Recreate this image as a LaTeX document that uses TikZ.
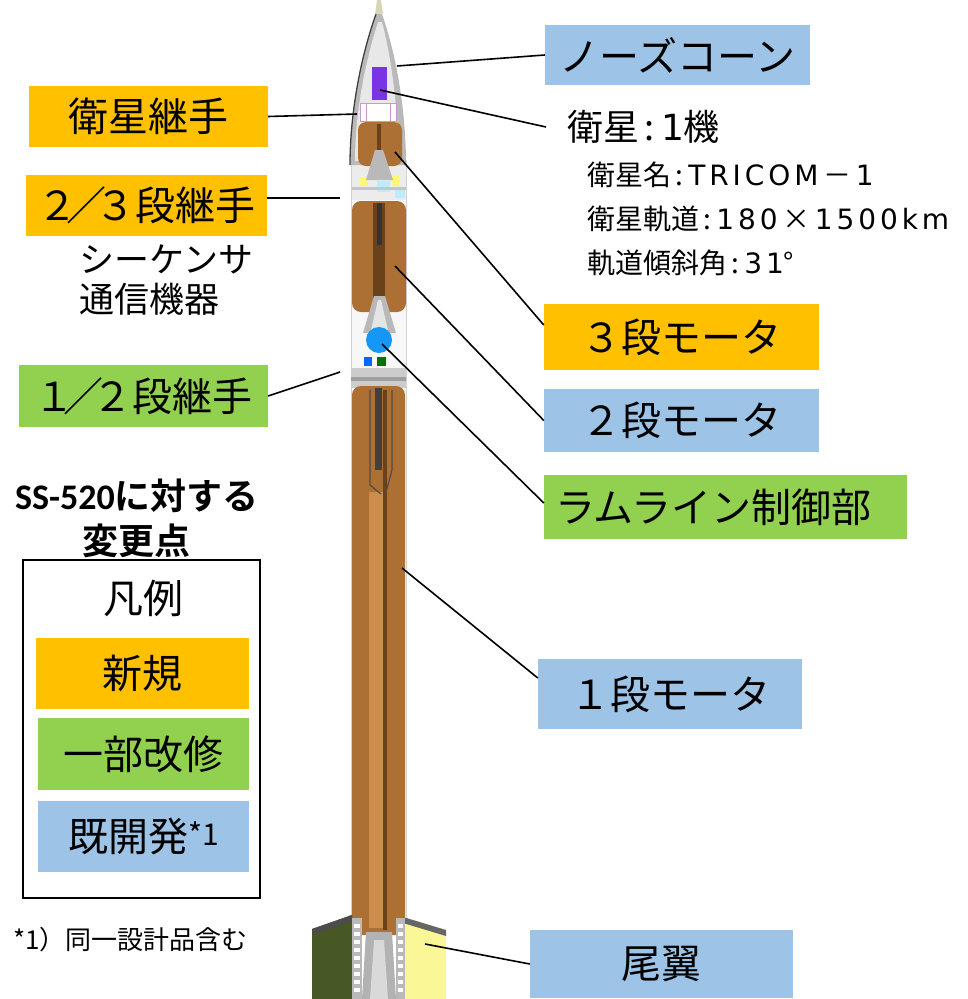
\documentclass[tikz,border=0pt]{standalone}
\usepackage{fontspec}
\setmainfont{Noto Sans CJK JP}[BoldFont={Noto Sans CJK JP Bold}]
\newfontfamily\carlito{Carlito}
\newfontfamily\latinw{DejaVu Sans}[LetterSpace=14]
\definecolor{newc}{RGB}{255,192,0}
\definecolor{modc}{RGB}{146,208,80}
\definecolor{oldc}{RGB}{157,195,230}
\definecolor{motor}{RGB}{172,112,52}
\definecolor{motorhi}{RGB}{204,140,74}
\definecolor{motordk}{RGB}{105,66,28}
\definecolor{finleft}{RGB}{72,88,36}
\definecolor{finright}{RGB}{250,248,150}
\definecolor{satc}{RGB}{122,52,228}
\definecolor{ballc}{RGB}{22,150,245}
\newcommand{\slashw}{\kern-11pt／\kern-11pt}
\tikzset{
  lbl/.style={inner sep=0pt, font=\fontsize{40}{40}\selectfont},
  newpart/.style={lbl, fill=newc},
  modpart/.style={lbl, fill=modc},
  oldpart/.style={lbl, fill=oldc},
  leader/.style={line width=1.6pt},
}
\begin{document}
\begin{tikzpicture}[x=1pt,y=-1pt]
\useasboundingbox (0,0) rectangle (968,999);
% rocket body
\fill[gray!6] (351,160) rectangle (406,935);
\draw[gray!35] (351,160) -- (351,935) (406,160) -- (406,935);
% stage 3 section and equipment
\fill[gray!15] (352,165) rectangle (406,200);
\fill[yellow!55] (360,177) rectangle (367,186);
\fill[yellow!55] (392,176) rectangle (399,186);
\fill[cyan!25] (377,181) rectangle (390,192);
\fill[cyan!25] (395,189) rectangle (405,198);
\fill[gray!45] (352,187) rectangle (406,190);
% stage 2
\fill[motor, rounded corners=9pt] (352,201) rectangle (406,312);
\fill[motordk] (373,203) rectangle (385,300);
\fill[black!80] (377,203) rectangle (382,245);
\fill[gray!55] (374,296) -- (385,296) -- (396,333) -- (363,333) -- cycle;
\fill[gray!20] (378,300) -- (381,300) -- (388,330) -- (371,330) -- cycle;
\fill[ballc] (379,340) circle (13);
\fill[blue!60!cyan] (364,357) rectangle (372,366);
\fill[green!45!black] (377,357) rectangle (386,366);
% 1/2 joint
\fill[gray!40] (351,368) rectangle (406,388);
\fill[gray!75] (351,377) rectangle (406,381);
% stage 1
\fill[motor, rounded corners=9pt] (352,386) rectangle (405,935);
\fill[motorhi] (369,492) rectangle (383,928);
\fill[motordk] (383,390) rectangle (387,930);
\fill[black!75] (375,388) rectangle (382,470);
\draw[black!70, line width=1.2pt] (370,390) -- (370,485) -- (381,494);
\draw[black!70, line width=1.2pt] (392,390) -- (392,470) -- (386,492);
% fins
\fill[finleft] (312,929) -- (352,915) -- (352,999) -- (312,999) -- cycle;
\fill[black!70] (312,929) -- (352,915) -- (352,921) -- (312,935) -- cycle;
\fill[finright] (403,917) -- (446,930) -- (446,999) -- (403,999) -- cycle;
\fill[black!60] (403,917) -- (446,930) -- (446,936) -- (403,923) -- cycle;
\fill[gray!55] (352,918) rectangle (362,999);
\fill[gray!55] (396,918) rectangle (405,999);
\foreach \y in {924,932,...,994} {
  \fill[white] (354,\y) rectangle (360,\y+4);
  \fill[white] (398,\y) rectangle (403,\y+4);
}
% stage 1 nozzle
\fill[gray!60] (366,932) -- (392,932) -- (396,999) -- (362,999) -- cycle;
\fill[gray!30] (374,940) -- (384,940) -- (388,999) -- (370,999) -- cycle;
% nose cone
\fill[gray!55] (379,6) .. controls (362,50) and (350,110) .. (350,165)
  -- (406,165) .. controls (406,110) and (396,50) .. (379,6) -- cycle;
\fill[gray!18] (378,22) .. controls (366,60) and (355,110) .. (355,161)
  -- (399,161) .. controls (398,110) and (392,60) .. (382,22) -- cycle;
\draw[black!75, line width=1.3pt] (350,165) .. controls (350,110) and (362,50) .. (379,6);
\fill[yellow!30!gray!50] (377,0) -- (381,0) -- (383,14) -- (375,14) -- cycle;
\fill[satc] (372,67) rectangle (387,100);
\fill[white] (360,103) rectangle (396,121);
\draw[violet!40] (360,103) rectangle (396,121) (366,103) -- (366,121) (390,103) -- (390,121);
\fill[motor, rounded corners=8pt] (358,122) rectangle (402,166);
\fill[motordk] (377,124) rectangle (381,150);
\fill[gray!55] (375,150) -- (383,150) -- (393,180) -- (366,180) -- cycle;
% points on the rocket
\coordinate (c-nose) at (397,66);
\coordinate (c-sat) at (380,90);
\coordinate (c-satj) at (357,114);
\coordinate (c-j23) at (340,198);
\coordinate (c-m3) at (395,152);
\coordinate (c-m2) at (395,266);
\coordinate (c-j12) at (340,372);
\coordinate (c-ram) at (382,344);
\coordinate (c-m1) at (402,568);
\coordinate (c-fin) at (425,944);
% labels
\node[oldpart, minimum width=265pt, minimum height=60pt] (nose) at (677.5,55) {ノーズコーン};
\node[newpart, minimum width=239pt, minimum height=61pt] (satj) at (148.5,116.5) {衛星継手};
\node[newpart, minimum width=241pt, minimum height=61pt] (j23) at (146.5,205.5) {２\slashw ３段継手};
\node[modpart, minimum width=249pt, minimum height=62pt] (j12) at (143.5,396) {１\slashw ２段継手};
\node[newpart, minimum width=275pt, minimum height=66pt] (m3) at (681.5,337) {３段モータ};
\node[oldpart, minimum width=275pt, minimum height=63pt] (m2) at (681.5,420.5) {２段モータ};
\node[modpart, minimum width=363pt, minimum height=64pt] (ram) at (725.5,507) {ラムライン制御部\kern24pt};
\node[oldpart, minimum width=264pt, minimum height=70pt] (m1) at (670,694) {１段モータ};
\node[oldpart, minimum width=263pt, minimum height=68pt] (fin) at (661.5,964) {尾翼};
\node[anchor=west, inner sep=0pt, outer xsep=21pt, font=\fontsize{36}{36}\selectfont] (sat) at (546,127)
  {衛星\,:\,{\latinw 1}機};
\node[anchor=north west, inner sep=0pt, align=left, font=\fontsize{28}{44}\selectfont] (satinfo) at (587,162)
  {衛星名\,:\,{\latinw TRICOM}\,－\,{\latinw 1}\\衛星軌道\,:\,{\latinw 180}\,×\,{\latinw 1500km}\\軌道傾斜角\,:\,{\latinw 31}°};
\node[anchor=north west, inner sep=0pt, align=left, font=\fontsize{35}{40}\selectfont] (seq) at (79,245)
  {シーケンサ\\通信機器};
% legend
\node[align=center, inner sep=0pt, font=\bfseries\fontsize{36}{45}\selectfont] (hdr) at (137,518)
  {{\carlito\bfseries SS-520}に対する\\変更点};
\node[draw, line width=1.6pt, minimum width=237pt, minimum height=338pt] (legend) at (141.5,729) {};
\node[lbl] (lgtitle) at (143,598) {凡例};
\node[newpart, minimum width=213pt, minimum height=71pt] (lgnew) at (142.5,673.5) {新規};
\node[modpart, minimum width=211pt, minimum height=72pt] (lgmod) at (143.5,754) {一部改修};
\node[oldpart, minimum width=211pt, minimum height=71pt] (lgold) at (143.5,836.5)
  {既開発\raisebox{6pt}{\fontsize{30}{30}\selectfont *1}};
\node[anchor=west, inner sep=0pt, font=\fontsize{26}{26}\selectfont] (note) at (13,940) {*1）同一設計品含む};
% leaders
\draw[leader] (nose.west) -- (c-nose);
\draw[leader] (sat.west) -- (c-sat);
\draw[leader] (satj.east) -- (c-satj);
\draw[leader] (c-j23 -| j23.east) -- (c-j23);
\draw[leader] ([yshift=12pt]m3.west) -- (c-m3);
\draw[leader] (m2.west) -- (c-m2);
\draw[leader] (j12.east) -- (c-j12);
\draw[leader] ([yshift=4pt]ram.west) -- (c-ram);
\draw[leader] ([yshift=16pt]m1.west) -- (c-m1);
\draw[leader] (fin.west) -- (c-fin);
\end{tikzpicture}
\end{document}
